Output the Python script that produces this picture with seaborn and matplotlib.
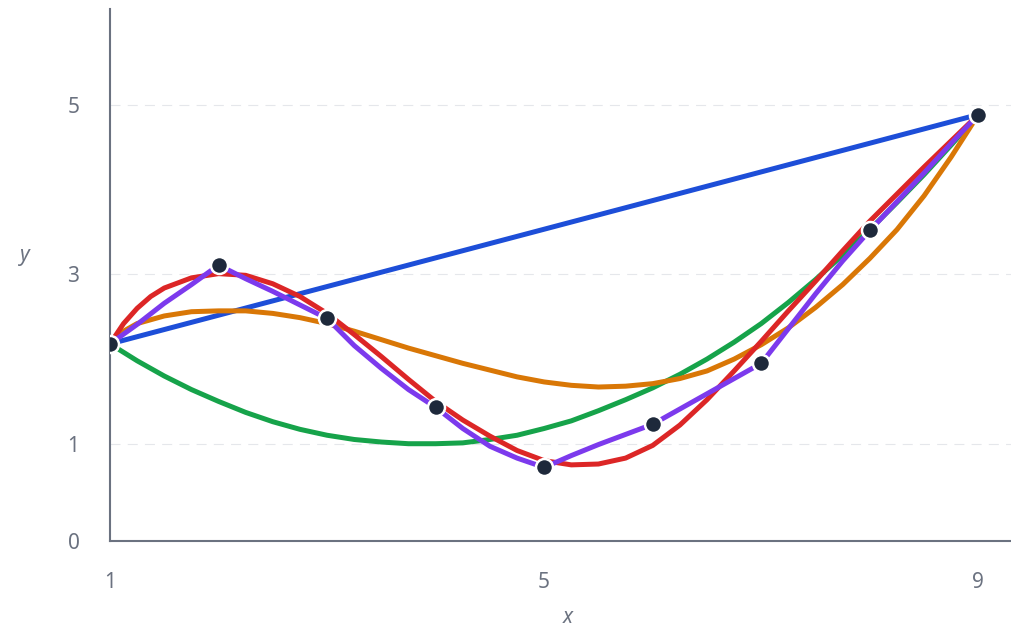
import seaborn as sns
import matplotlib.pyplot as plt

# data points
pts_x = [1, 2, 3, 4, 5, 6, 7, 8, 9]
pts_y = [2.18, 3.11, 2.48, 1.43, 0.72, 1.23, 1.95, 3.52, 4.89]

# blue: straight line between first and last point
blue_x = [1, 9]
blue_y = [2.18, 4.89]

# curves, sampled every 0.25 on x
curve_x = [1, 1.25, 1.5, 1.75, 2, 2.25, 2.5, 2.75, 3, 3.25, 3.5, 3.75, 4, 4.25, 4.5, 4.75, 5,
           5.25, 5.5, 5.75, 6, 6.25, 6.5, 6.75, 7, 7.25, 7.5, 7.75, 8, 8.25, 8.5, 8.75, 9]

green_y = [2.18, 1.98, 1.80, 1.64, 1.50, 1.37, 1.26, 1.17, 1.10, 1.05, 1.02, 1.00, 1.00, 1.01, 1.05, 1.10, 1.18,
           1.27, 1.39, 1.52, 1.66, 1.82, 2.00, 2.20, 2.42, 2.67, 2.94, 3.23, 3.53, 3.85, 4.18, 4.53, 4.89]

orange_y = [2.18, 2.42, 2.51, 2.56, 2.57, 2.57, 2.54, 2.49, 2.42, 2.33, 2.23, 2.13, 2.04, 1.95, 1.87, 1.79, 1.73,
            1.69, 1.67, 1.68, 1.71, 1.77, 1.86, 2.00, 2.17, 2.37, 2.61, 2.88, 3.19, 3.53, 3.93, 4.39, 4.89]

red_y = [2.18, 2.60, 2.84, 2.96, 3.01, 2.99, 2.89, 2.74, 2.54, 2.29, 2.03, 1.76, 1.50, 1.28, 1.09, 0.92, 0.80,
         0.75, 0.76, 0.83, 0.98, 1.22, 1.52, 1.86, 2.21, 2.57, 2.92, 3.28, 3.63, 3.95, 4.27, 4.58, 4.89]

purple_y = [2.18, 2.41, 2.66, 2.88, 3.11, 2.95, 2.80, 2.64, 2.48, 2.16, 1.89, 1.64, 1.43, 1.18, 0.97, 0.83, 0.72,
            0.86, 0.99, 1.11, 1.23, 1.41, 1.59, 1.77, 1.95, 2.36, 2.77, 3.16, 3.52, 3.86, 4.20, 4.55, 4.89]

# a few extra samples where the curves bend sharply
red_extra_x = [1.125, 1.375]
red_extra_y = [2.42, 2.74]
orange_extra_x = [1.125]
orange_extra_y = [2.33]

ytick_pos = [-0.15, 1, 3, 5]
ytick_labels = ["0", "1", "3", "5"]
xtick_pos = [1, 5, 9]

sns.set_theme(style="white")
plt.rcParams['font.family'] = ['Noto Sans', 'DejaVu Sans']

grey = "#6b7280"


def merge(xa, ya, xb, yb):
    pairs = sorted(zip(list(xa) + list(xb), list(ya) + list(yb)))
    return [p[0] for p in pairs], [p[1] for p in pairs]


red_x, red_all = merge(curve_x, red_y, red_extra_x, red_extra_y)
orange_x, orange_all = merge(curve_x, orange_y, orange_extra_x, orange_extra_y)

fig = plt.figure(figsize=(10.12, 6.28), dpi=100)
ax = fig.add_axes([0.1087, 0.1385, 0.8913, 0.8475])

lw = 3.6
kw = dict(linewidth=lw, ax=ax, sort=False, solid_joinstyle="round", solid_capstyle="round")
sns.lineplot(x=blue_x, y=blue_y, color="#1d4ed8", **kw)
sns.lineplot(x=curve_x, y=green_y, color="#16a34a", **kw)
sns.lineplot(x=orange_x, y=orange_all, color="#d97706", **kw)
sns.lineplot(x=red_x, y=red_all, color="#dc2626", **kw)
sns.lineplot(x=curve_x, y=purple_y, color="#7c3aed", **kw)
sns.scatterplot(x=pts_x, y=pts_y, color="#1e293b", s=150, edgecolor="white",
                linewidth=1.8, zorder=5, ax=ax)

ax.set_xlim(1, 9.31)
ax.set_ylim(-0.15, 6.14)
ax.set_xticks(xtick_pos)
ax.set_yticks(ytick_pos)
ax.set_yticklabels(ytick_labels)
ax.tick_params(axis="both", length=0, labelsize=15, labelcolor=grey)
ax.tick_params(axis="y", pad=22)
ax.tick_params(axis="x", pad=22)

ax.yaxis.grid(True, color="#e5e7eb", linewidth=0.8, linestyle=(0, (9, 6.5)))
ax.xaxis.grid(False)
ax.set_axisbelow(True)

sns.despine(ax=ax)
for s in ["left", "bottom"]:
    ax.spines[s].set_color(grey)
    ax.spines[s].set_linewidth(1.5)

ax.set_xlabel("x", fontsize=15, color=grey, style="italic")
ax.set_ylabel("y", fontsize=15, color=grey, style="italic", rotation=0)
ax.xaxis.set_label_coords(0.508, -0.143)
ax.yaxis.set_label_coords(-0.094, 0.537)
ax.xaxis.label.set_va("center")
ax.yaxis.label.set_va("center")

plt.savefig("out.png", dpi=100)
